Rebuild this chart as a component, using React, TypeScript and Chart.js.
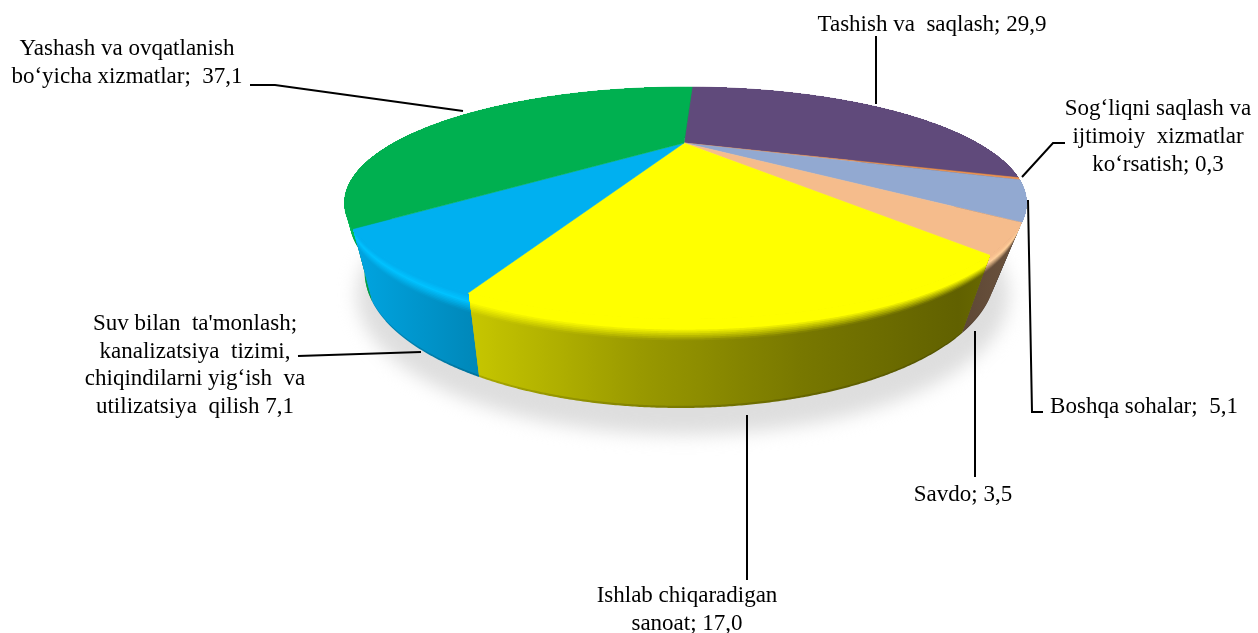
import React, { useEffect, useRef } from "react";
import { Chart, registerables } from "chart.js";

Chart.register(...registerables);

const categories = [
  "Tashish va saqlash",
  "Sog‘liqni saqlash va ijtimoiy xizmatlar ko‘rsatish",
  "Boshqa sohalar",
  "Savdo",
  "Ishlab chiqaradigan sanoat",
  "Suv bilan ta'monlash; kanalizatsiya tizimi, chiqindilarni yig‘ish va utilizatsiya qilish",
  "Yashash va ovqatlanish bo‘yicha xizmatlar",
];
const values = [29.9, 0.3, 5.1, 3.5, 17.0, 7.1, 37.1];
const sliceColors = ["#604A7B", "#E9904F", "#92A9D1", "#F5BC8C", "#FFFF00", "#00B0F0", "#00B050"];

const labelTexts = [
  ["Tashish va  saqlash; 29,9"],
  ["Sog‘liqni saqlash va", "ijtimoiy  xizmatlar", "ko‘rsatish; 0,3"],
  ["Boshqa sohalar;  5,1"],
  ["Savdo; 3,5"],
  ["Ishlab chiqaradigan", "sanoat; 17,0"],
  ["Suv bilan  ta'monlash;", "kanalizatsiya  tizimi,", "chiqindilarni yig‘ish  va", "utilizatsiya  qilish 7,1"],
  ["Yashash va ovqatlanish", "bo‘yicha xizmatlar;  37,1"],
];

// Layout of the drawing: not data.
const labelAnchors = [
  { x: 932, y: 31, lh: 28 },
  { x: 1158, y: 115, lh: 28 },
  { x: 1144, y: 413, lh: 28 },
  { x: 963, y: 501, lh: 28 },
  { x: 687, y: 602, lh: 28 },
  { x: 195, y: 330, lh: 27.7 },
  { x: 127, y: 55, lh: 28 },
];
const leaders = [
  [[876, 36], [876, 104]],
  [[1065, 143], [1053, 143], [1022, 177]],
  [[1028, 200], [1032, 412], [1043, 412]],
  [[975, 331], [975, 477]],
  [[747, 415], [747, 580]],
  [[298, 356], [421, 352]],
  [[250, 85], [275, 85], [463, 111]],
];
const topDisc = { cx: 685.5, cy: 203, rx: 341, ry: 116, a: 0.517 };
const bottomDisc = { cx: 680, cy: 273, rx: 315, ry: 135, a: 0.52 };
const shadeStops = [
  [345, 0.95],
  [470, 0.78],
  [640, 0.6],
  [800, 0.47],
  [958, 0.38],
  [1030, 0.45],
];
const gradX0 = 345;
const gradX1 = 1030;

type Pt = [number, number];

function project(angle: number, d: typeof topDisc): Pt {
  const x = Math.cos(angle);
  const y = -Math.sin(angle);
  const k = 1 + d.a * y;
  return [d.cx + (d.rx * x * Math.sqrt(1 - d.a * d.a)) / k, d.cy - (d.ry * (y + d.a)) / k];
}
function ringPoint(angle: number, t: number): Pt {
  const p = project(angle, topDisc);
  const q = project(angle, bottomDisc);
  return [p[0] + (q[0] - p[0]) * t, p[1] + (q[1] - p[1]) * t];
}
function rgb(hex: string): number[] {
  return [1, 3, 5].map((i) => parseInt(hex.slice(i, i + 2), 16));
}
const mix = (a: number[], b: number[], f: number) => a.map((v, i) => v + (b[i] - v) * f);
const css = (c: number[]) => `rgb(${c.map((v) => Math.round(v)).join(",")})`;

function bandColor(base: number[], shade: number, t: number): string {
  const side = base.map((v) => v * shade);
  const light = base.map((v) => Math.min(255, v * 1.1));
  let c: number[];
  if (t < 0.04) c = base;
  else if (t < 0.12) c = mix(base, light, (t - 0.04) / 0.08);
  else if (t < 0.25) c = mix(light, side, (t - 0.12) / 0.13);
  else if (t < 0.98) c = side;
  else c = side.map((v) => v * 0.85);
  return css(c);
}

const pieOn3d = {
  id: "pieOn3d",
  beforeDatasetsDraw(chart: any) {
    const ctx: CanvasRenderingContext2D = chart.ctx;
    const arcs = chart.getDatasetMeta(0).data as any[];

    ctx.save();
    ctx.filter = "blur(9px)";
    ctx.fillStyle = "#dedede";
    ctx.beginPath();
    ctx.ellipse(683, 295, 326, 140, 0, 0, Math.PI * 2);
    ctx.fill();
    ctx.restore();

    const arcPts = (arc: any, t: number) => {
      const pts: Pt[] = [];
      const n = Math.max(2, Math.ceil((arc.endAngle - arc.startAngle) / (Math.PI / 720)));
      for (let i = 0; i <= n; i++) {
        pts.push(ringPoint(arc.startAngle + ((arc.endAngle - arc.startAngle) * i) / n, t));
      }
      return pts;
    };
    const fillPts = (pts: Pt[]) => {
      ctx.beginPath();
      pts.forEach((p, i) => (i ? ctx.lineTo(p[0], p[1]) : ctx.moveTo(p[0], p[1])));
      ctx.closePath();
      ctx.fill();
    };

    const order = arcs
      .map((_, i) => i)
      .sort(
        (i, j) =>
          Math.sin((arcs[i].startAngle + arcs[i].endAngle) / 2) -
          Math.sin((arcs[j].startAngle + arcs[j].endAngle) / 2)
      );

    const tSteps = [1, 0.975];
    for (let t = 0.26; t > 0.001; t -= 0.02) tSteps.push(t);

    order.forEach((i) => {
      const base = rgb(sliceColors[i]);
      const rim = arcPts(arcs[i], 0);
      tSteps.forEach((t) => {
        const g = ctx.createLinearGradient(gradX0, 0, gradX1, 0);
        shadeStops.forEach(([x, s]) => {
          g.addColorStop((x - gradX0) / (gradX1 - gradX0), bandColor(base, s, t));
        });
        ctx.fillStyle = g;
        fillPts(rim.concat(arcPts(arcs[i], t).reverse()));
      });
    });

    const apexPt: Pt = [topDisc.cx - 1.5, topDisc.cy - topDisc.ry * topDisc.a];
    arcs.forEach((arc, i) => {
      ctx.fillStyle = sliceColors[i];
      ctx.strokeStyle = sliceColors[i];
      ctx.lineWidth = 0.5;
      fillPts([apexPt, ...arcPts(arc, 0)]);
      ctx.stroke();
    });
    return false;
  },
  afterDraw(chart: any) {
    const ctx: CanvasRenderingContext2D = chart.ctx;
    ctx.save();
    ctx.strokeStyle = "#000";
    ctx.lineWidth = 2;
    ctx.lineJoin = "miter";
    leaders.forEach((pts) => {
      ctx.beginPath();
      pts.forEach((p, i) => (i ? ctx.lineTo(p[0], p[1]) : ctx.moveTo(p[0], p[1])));
      ctx.stroke();
    });
    ctx.fillStyle = "#000";
    ctx.font = '23px "Liberation Serif"';
    ctx.textAlign = "center";
    ctx.textBaseline = "alphabetic";
    labelTexts.forEach((lines, i) => {
      const a = labelAnchors[i];
      lines.forEach((s, k) => ctx.fillText(s, a.x, a.y + k * a.lh));
    });
    ctx.restore();
  },
};

export default function App() {
  const ref = useRef<HTMLCanvasElement>(null);
  useEffect(() => {
    const chart = new Chart(ref.current!, {
      type: "pie",
      data: {
        labels: categories,
        datasets: [{ data: values, backgroundColor: sliceColors, borderWidth: 0 }],
      },
      options: {
        animation: false,
        responsive: false,
        rotation: 2,
        plugins: { legend: { display: false }, tooltip: { enabled: false } },
      },
      plugins: [pieOn3d],
    } as any);
    return () => chart.destroy();
  }, []);
  return (
    <canvas
      ref={ref}
      width={1258}
      height={633}
      style={{ position: "absolute", left: 0, top: 0, display: "block", background: "#fff" }}
    />
  );
}
